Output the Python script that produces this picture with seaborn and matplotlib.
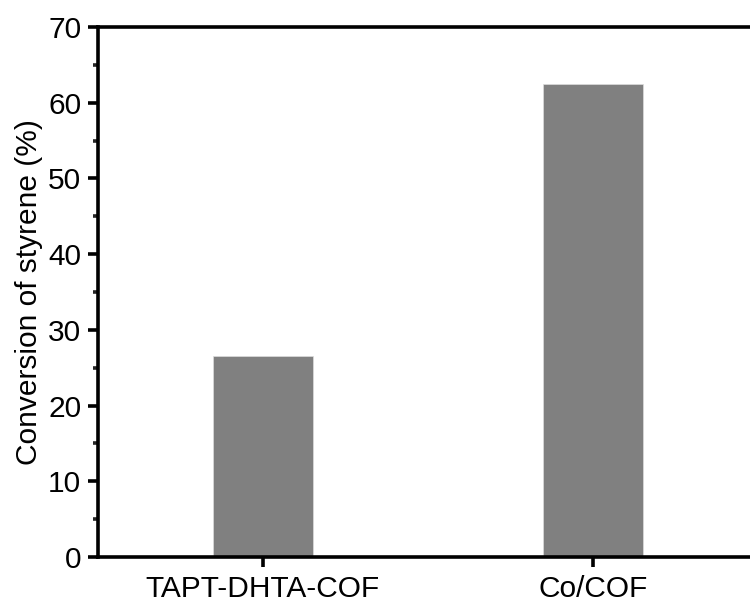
import matplotlib
matplotlib.use("Agg")
import matplotlib.pyplot as plt
import seaborn as sns
import pandas as pd
from matplotlib.ticker import MultipleLocator

categories = ["TAPT-DHTA-COF", "Co/COF"]
conversion = [26.5, 62.5]

sns.set_theme(style="ticks")
plt.rcParams['font.family'] = ['Liberation Sans', 'DejaVu Sans']

df = pd.DataFrame({"cat": categories, "val": conversion})

fig = plt.figure(figsize=(7.5, 6.04), dpi=100)
ax = fig.add_axes([98/750, 47/604, 660/750, 530/604])
sns.barplot(data=df, x="cat", y="val", color="#808080", saturation=1,
            width=0.303, ax=ax, edgecolor="#dddddd", linewidth=0.5)

ax.set_xlim(-0.5, 1.5)
ax.set_ylim(0, 70)
ax.yaxis.set_major_locator(MultipleLocator(10))
ax.yaxis.set_minor_locator(MultipleLocator(5))
ax.set_xlabel("")
ax.set_ylabel("Conversion of styrene (%)", fontsize=21.5, labelpad=4, color="black")
for s in ax.spines.values():
    s.set_linewidth(2.6)
    s.set_color("black")
ax.tick_params(axis="both", which="major", direction="out", length=7, width=2.6,
               labelsize=21.5, colors="black", pad=5)
ax.tick_params(axis="y", which="minor", direction="out", length=3.5, width=2.6)
ax.tick_params(axis="x", which="major", pad=6)
fig.savefig("out.png", dpi=100)
